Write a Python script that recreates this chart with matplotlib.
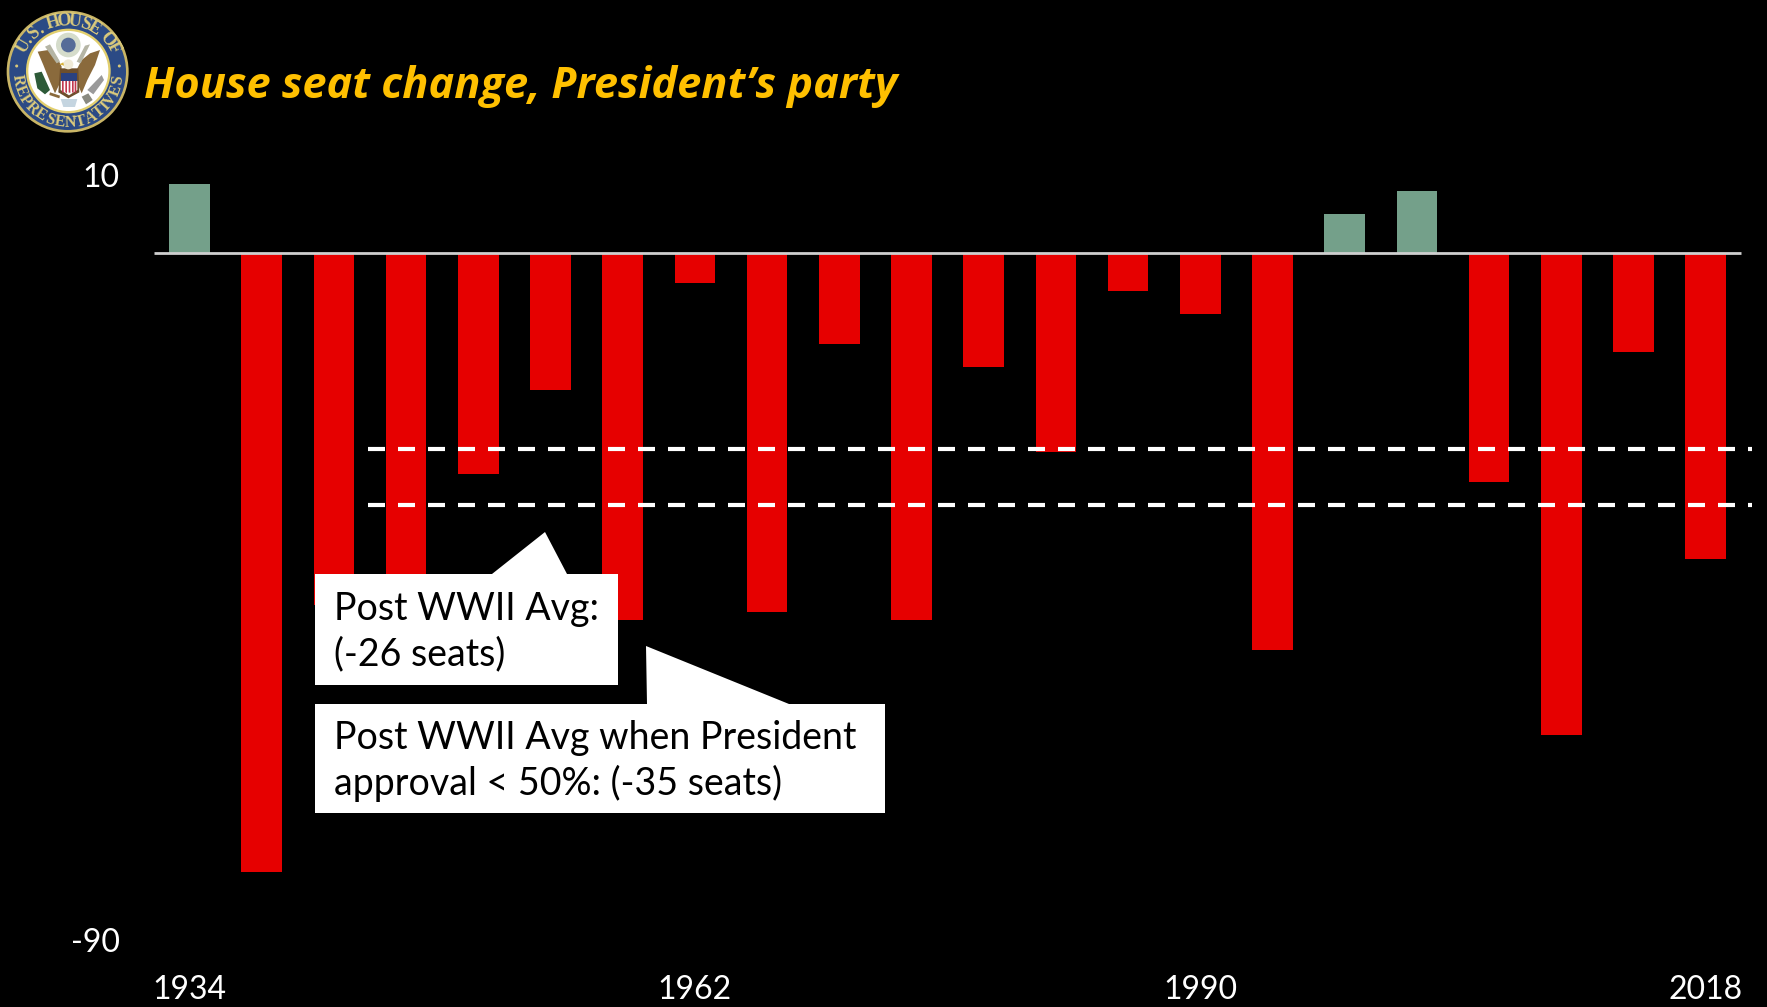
import numpy as np
import matplotlib
matplotlib.use("Agg")
import matplotlib.pyplot as plt
from matplotlib.patches import Polygon, Ellipse, Rectangle

years = [1934, 1938, 1942, 1946, 1950, 1954, 1958, 1962, 1966, 1970, 1974,
         1978, 1982, 1986, 1990, 1994, 1998, 2002, 2006, 2010, 2014, 2018]
seat_change = [9, -81, -46, -55, -29, -18, -48, -4, -47, -12, -48,
               -15, -26, -5, -8, -52, 5, 8, -30, -63, -13, -40]
avg_lines = [-25.7, -33]
y_ticks = [10, -90]
x_ticks = [1934, 1962, 1990, 2018]

W, H = 1767, 1007
plt.rcParams['font.family'] = ['Lato', 'DejaVu Sans']

fig = plt.figure(figsize=(W / 100, H / 100), dpi=100, facecolor='black')

# data axes fill the whole canvas, limits chosen so the years/seats land on the right pixels
px_year = 18.05
px_seat = 7.65
x0 = 1934 - 189.5 / px_year
y_top = 252.6 / px_seat
ax = fig.add_axes([0, 0, 1, 1], facecolor='black')
ax.set_xlim(x0, x0 + W / px_year)
ax.set_ylim(y_top - H / px_seat, y_top)
ax.axis('off')


def year_at(px):
    return x0 + px / px_year


colors = ['#74a08a' if v > 0 else '#e60000' for v in seat_change]
ax.bar(years, seat_change, width=2.25, color=colors, zorder=2)
ax.plot([year_at(154), year_at(1741)], [0, 0], color='#cfcfcf', lw=2, zorder=3,
        solid_capstyle='butt')
for v in avg_lines:
    ax.plot([year_at(368), year_at(1752)], [v, v], color='white', lw=3, zorder=4,
            linestyle=(0, (4.08, 3.12)), dash_capstyle='butt')

for v in y_ticks:
    ax.text(year_at(120), v - 0.3, str(v), color='white', fontsize=23,
            ha='right', va='center')
for yr in x_ticks:
    ax.text(yr, y_top - 990 / px_seat, str(yr), color='white', fontsize=23,
            ha='center', va='center')

# overlay in pixels for the callouts, title and seal
ov = fig.add_axes([0, 0, 1, 1], facecolor='none')
ov.set_xlim(0, W)
ov.set_ylim(H, 0)
ov.axis('off')

box1 = [(315, 574), (492, 574), (545, 532), (567, 574), (618, 574), (618, 685), (315, 685)]
box2 = [(315, 704), (647, 704), (646, 646), (789, 704), (885, 704), (885, 813), (315, 813)]
ov.add_patch(Polygon(box1, closed=True, fc='white', ec='none', zorder=5))
ov.add_patch(Polygon(box2, closed=True, fc='white', ec='none', zorder=5))
for xx, yy, s in [(334, 609, "Post WWII Avg:"), (334, 654, "(-26 seats)"),
                  (334, 738, "Post WWII Avg when President"),
                  (334, 783, "approval < 50%: (-35 seats)")]:
    ov.text(xx, yy, s, color='black', fontsize=27, va='center', zorder=6)

ov.text(144, 86, "House seat change, President\u2019s party", color='#ffc000', fontsize=31.2,
        fontweight='bold', style='italic', va='center', family='Open Sans')


def z(x, y):
    return x / 3, y / 3 + 5


def zpoly(pts, col, order=7):
    ov.add_patch(Polygon([z(*p) for p in pts], closed=True, fc=col, ec='none', zorder=order))


def zdisc(x, y, d, col, order=7):
    ov.add_patch(Ellipse(z(x, y), d / 3, d / 3, fc=col, ec='none', zorder=order))


zdisc(203, 200, 366, '#c9b566', 6)
zdisc(203, 200, 350, '#2b4a85', 6)
zdisc(205, 198, 254, '#e2cf6e', 6)
zdisc(205, 198, 240, 'white', 6)
zdisc(50, 183, 9, '#d9c87a')
zdisc(358, 183, 9, '#d9c87a')
# glory
zdisc(205, 120, 74, '#d5dccb')
zdisc(205, 120, 44, '#566c98')
# wings and body
zpoly([(113, 140), (145, 135), (170, 155), (185, 185), (182, 230), (165, 265), (150, 230), (130, 180)], '#8a6a3c')
zpoly([(300, 135), (270, 145), (245, 165), (232, 190), (232, 235), (245, 265), (262, 225), (285, 180)], '#8a6a3c')
zpoly([(180, 190), (235, 190), (238, 262), (205, 280), (175, 262)], '#6e4f2c')
zpoly([(135, 125), (150, 118), (180, 170), (170, 175)], '#b5b5a5')
zpoly([(270, 118), (255, 122), (230, 170), (242, 175)], '#b5b5a5')
zdisc(205, 178, 30, '#efe9d6')
zpoly([(190, 172), (178, 178), (192, 182)], '#d9b33a', 8)
# shield
zpoly([(182, 205), (232, 205), (232, 228), (182, 228)], '#2a4180', 8)
zpoly([(182, 228), (232, 228), (232, 255), (207, 271), (182, 255)], 'white', 8)
for sx in [186, 196, 206, 216, 224]:
    zpoly([(sx, 228), (sx + 5, 228), (sx + 5, 264), (sx, 262)], '#c23a50', 9)
# olive branch, arrows, feathers
zpoly([(103, 205), (125, 200), (150, 255), (135, 268), (112, 250)], '#2d5a38')
zpoly([(150, 262), (180, 272), (178, 280), (148, 270)], '#8a6a3c')
zpoly([(305, 210), (312, 225), (280, 268), (262, 255)], '#9a9a9a')
zpoly([(245, 275), (265, 265), (278, 285), (258, 298)], '#8a8a80')
zpoly([(182, 282), (232, 282), (225, 306), (190, 306)], '#c5d5e0')


def ring_text(txt, start, stop, radius, size):
    # letters one at a time round the ring, narrow ones take less room
    widths = np.array([0.55 if ch in '. I' else 1.0 for ch in txt])
    pos = np.cumsum(widths) - widths / 2
    angs = start + (stop - start) * (pos - pos[0]) / (pos[-1] - pos[0])
    for ch, ang in zip(txt, angs):
        a = np.deg2rad(ang)
        rot = -ang if abs(ang) < 90 else 180 - ang
        ov.text(68 + radius * np.sin(a), 72 - radius * np.cos(a), ch, color='#dccb7c',
                fontsize=size, fontweight='bold', ha='center', va='center', rotation=rot,
                rotation_mode='anchor', family='Liberation Serif', zorder=8)


ring_text("U.S. HOUSE OF", -60, 62, 51, 13)
ring_text("REPRESENTATIVES", 261, 99, 51, 11.5)

fig.savefig("out.png", dpi=100, facecolor='black')
